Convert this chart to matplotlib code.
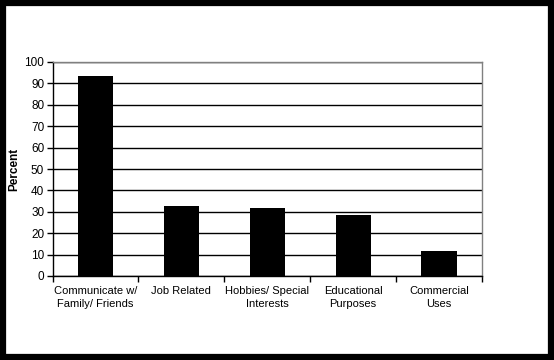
import matplotlib
matplotlib.use("Agg")
import matplotlib.pyplot as plt
import matplotlib.ticker as ticker
from matplotlib.patches import Rectangle
import numpy as np

categories = ["Communicate w/\nFamily/ Friends", "Job Related",
              "Hobbies/ Special\nInterests", "Educational\nPurposes",
              "Commercial\nUses"]
percent = [93.5, 32.8, 31.8, 28.6, 11.8]

plt.rcParams['font.family'] = ['Liberation Sans', 'DejaVu Sans']

W, H = 554, 360
fig = plt.figure(figsize=(W / 100, H / 100), dpi=100, facecolor='white')
# black frame round the picture
fig.patches.append(Rectangle((3 / W, 3 / H), 548 / W, 354 / H,
                             transform=fig.transFigure, facecolor='none',
                             edgecolor='black', linewidth=4.5, zorder=0))

ax = fig.add_axes([52.5 / W, 84 / H, 429.5 / W, 214 / H])
ax.set_zorder(2)
x = np.arange(len(categories))
ax.bar(x, percent, width=0.41, color='black', zorder=3)

ax.set_xlim(-0.5, len(categories) - 0.5)
ax.set_ylim(0, 100)
ax.yaxis.set_major_locator(ticker.MultipleLocator(10))
ax.yaxis.grid(True, color='black', linewidth=1.0, zorder=1)

# ticks between categories, labels centred under bars
ax.set_xticks(np.arange(len(categories) + 1) - 0.5)
ax.xaxis.set_major_formatter(ticker.NullFormatter())
ax.set_xticks(x, minor=True)
ax.set_xticklabels(categories, minor=True, fontsize=8, linespacing=1.45)
ax.tick_params(axis='x', which='minor', length=0, pad=7)
ax.tick_params(axis='x', which='major', length=4, width=1, direction='out')
ax.tick_params(axis='y', length=4, width=1, direction='out', labelsize=8.5, pad=2)

for s in ['top', 'right']:
    ax.spines[s].set_color('#808080')
for s in ['left', 'bottom']:
    ax.spines[s].set_color('black')
for s in ax.spines.values():
    s.set_linewidth(1.0)

ax.set_ylabel('Percent', fontsize=8.5, fontweight='bold', va='center')
ax.yaxis.set_label_coords(-(52.5 - 14.5) / 429.5, 0.5)

fig.savefig('out.png', dpi=100)
